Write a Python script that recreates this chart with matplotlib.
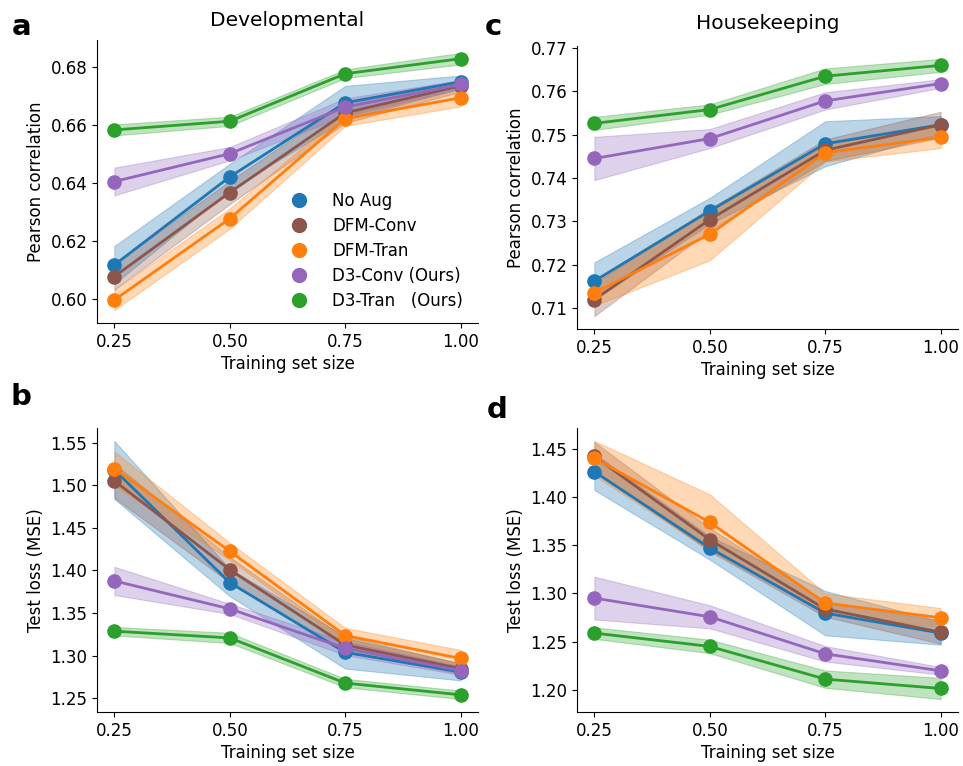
import numpy as np
import matplotlib
matplotlib.use("Agg")
import matplotlib.pyplot as plt
from matplotlib.lines import Line2D

plt.rcParams["font.family"] = ["DejaVu Sans"]

sizes = [0.25, 0.50, 0.75, 1.00]
methods = ["No Aug", "DFM-Conv", "DFM-Tran", "D3-Conv (Ours)", "D3-Tran   (Ours)"]
colors = ["tab:blue", "tab:brown", "tab:orange", "tab:purple", "tab:green"]

# Pearson correlation, developmental (panel a): mean and half band width
dev_r = [
    [0.6118, 0.6422, 0.6678, 0.6750],
    [0.6078, 0.6368, 0.6643, 0.6736],
    [0.5997, 0.6278, 0.6623, 0.6695],
    [0.6406, 0.6502, 0.6663, 0.6741],
    [0.6584, 0.6614, 0.6778, 0.6830],
]
dev_r_err = [
    [0.0065, 0.0045, 0.0058, 0.0022],
    [0.0045, 0.0040, 0.0035, 0.0020],
    [0.0035, 0.0035, 0.0025, 0.0030],
    [0.0048, 0.0023, 0.0030, 0.0015],
    [0.0019, 0.0016, 0.0015, 0.0020],
]

# Pearson correlation, housekeeping (panel c)
hk_r = [
    [0.7162, 0.7324, 0.7479, 0.7523],
    [0.7119, 0.7304, 0.7464, 0.7523],
    [0.7135, 0.7270, 0.7458, 0.7494],
    [0.7445, 0.7491, 0.7578, 0.7618],
    [0.7526, 0.7558, 0.7635, 0.7660],
]
hk_r_err = [
    [0.0043, 0.0030, 0.0052, 0.0020],
    [0.0038, 0.0025, 0.0025, 0.0030],
    [0.0030, 0.0060, 0.0020, 0.0025],
    [0.0050, 0.0022, 0.0020, 0.0010],
    [0.0015, 0.0012, 0.0018, 0.0015],
]

# Test loss (MSE), developmental (panel b)
dev_mse = [
    [1.5180, 1.3857, 1.3038, 1.2809],
    [1.5052, 1.4008, 1.3125, 1.2848],
    [1.5195, 1.4225, 1.3236, 1.2967],
    [1.3877, 1.3549, 1.3086, 1.2824],
    [1.3287, 1.3208, 1.2678, 1.2540],
]
dev_mse_err = [
    [0.0340, 0.0160, 0.0190, 0.0100],
    [0.0200, 0.0150, 0.0080, 0.0060],
    [0.0200, 0.0100, 0.0090, 0.0100],
    [0.0166, 0.0060, 0.0080, 0.0050],
    [0.0050, 0.0060, 0.0050, 0.0050],
]

# Test loss (MSE), housekeeping (panel d)
hk_mse = [
    [1.4261, 1.3470, 1.2795, 1.2588],
    [1.4420, 1.3556, 1.2837, 1.2598],
    [1.4400, 1.3736, 1.2899, 1.2747],
    [1.2951, 1.2757, 1.2373, 1.2197],
    [1.2588, 1.2450, 1.2111, 1.2014],
]
hk_mse_err = [
    [0.0190, 0.0120, 0.0230, 0.0120],
    [0.0150, 0.0120, 0.0080, 0.0120],
    [0.0180, 0.0290, 0.0100, 0.0100],
    [0.0222, 0.0120, 0.0080, 0.0040],
    [0.0060, 0.0070, 0.0090, 0.0110],
]

W, H = 963, 766
fig = plt.figure(figsize=(W / 100, H / 100), dpi=100)


def box(l, t, r, b):
    return [l / W, 1 - b / H, (r - l) / W, (b - t) / H]


ax_a = fig.add_axes(box(97, 40, 478, 323))
ax_c = fig.add_axes(box(577, 46, 958, 329))
ax_b = fig.add_axes(box(97, 428, 478, 712))
ax_d = fig.add_axes(box(577, 428, 958, 712))


def panel(ax, means, errs, ylabel):
    x = np.array(sizes)
    for m, e, c in zip(means, errs, colors):
        m = np.array(m)
        e = np.array(e)
        ax.fill_between(x, m - e, m + e, color=c, alpha=0.3, lw=0.8)
        ax.plot(x, m, "-", color=c, lw=2)
        ax.plot(x, m, "o", color=c, ms=9.5)
    ax.set_xticks(sizes)
    ax.set_xticklabels(["0.25", "0.50", "0.75", "1.00"])
    ax.set_xlabel("Training set size", fontsize=12, labelpad=3)
    ax.set_ylabel(ylabel, fontsize=12)
    ax.yaxis.set_major_formatter(plt.FormatStrFormatter("%.2f"))
    ax.tick_params(labelsize=12)
    ax.spines["top"].set_visible(False)
    ax.spines["right"].set_visible(False)


panel(ax_a, dev_r, dev_r_err, "Pearson correlation")
panel(ax_c, hk_r, hk_r_err, "Pearson correlation")
panel(ax_b, dev_mse, dev_mse_err, "Test loss (MSE)")
panel(ax_d, hk_mse, hk_mse_err, "Test loss (MSE)")

ax_a.set_yticks([0.60, 0.62, 0.64, 0.66, 0.68])
ax_c.set_yticks([0.71, 0.72, 0.73, 0.74, 0.75, 0.76, 0.77])
ax_b.set_yticks([1.25, 1.30, 1.35, 1.40, 1.45, 1.50, 1.55])
ax_d.set_yticks([1.20, 1.25, 1.30, 1.35, 1.40, 1.45])

ax_a.set_title("Developmental", fontsize=14.5, pad=10)
ax_c.set_title("Housekeeping", fontsize=14.5, pad=12)

handles = [Line2D([], [], ls="none", marker="o", ms=10, color=c) for c in colors]
ax_a.legend(handles, methods, loc="lower right", frameon=False, fontsize=12,
            handletextpad=1.0, labelspacing=0.42, bbox_to_anchor=(1.0, -0.008))

for lab, (px, py) in zip("abcd", [(12, 35), (10, 405), (485, 35), (487, 418)]):
    fig.text(px / W, 1 - py / H, lab, fontsize=21, fontweight="bold",
             ha="left", va="baseline")

fig.savefig("out.png", dpi=100)
